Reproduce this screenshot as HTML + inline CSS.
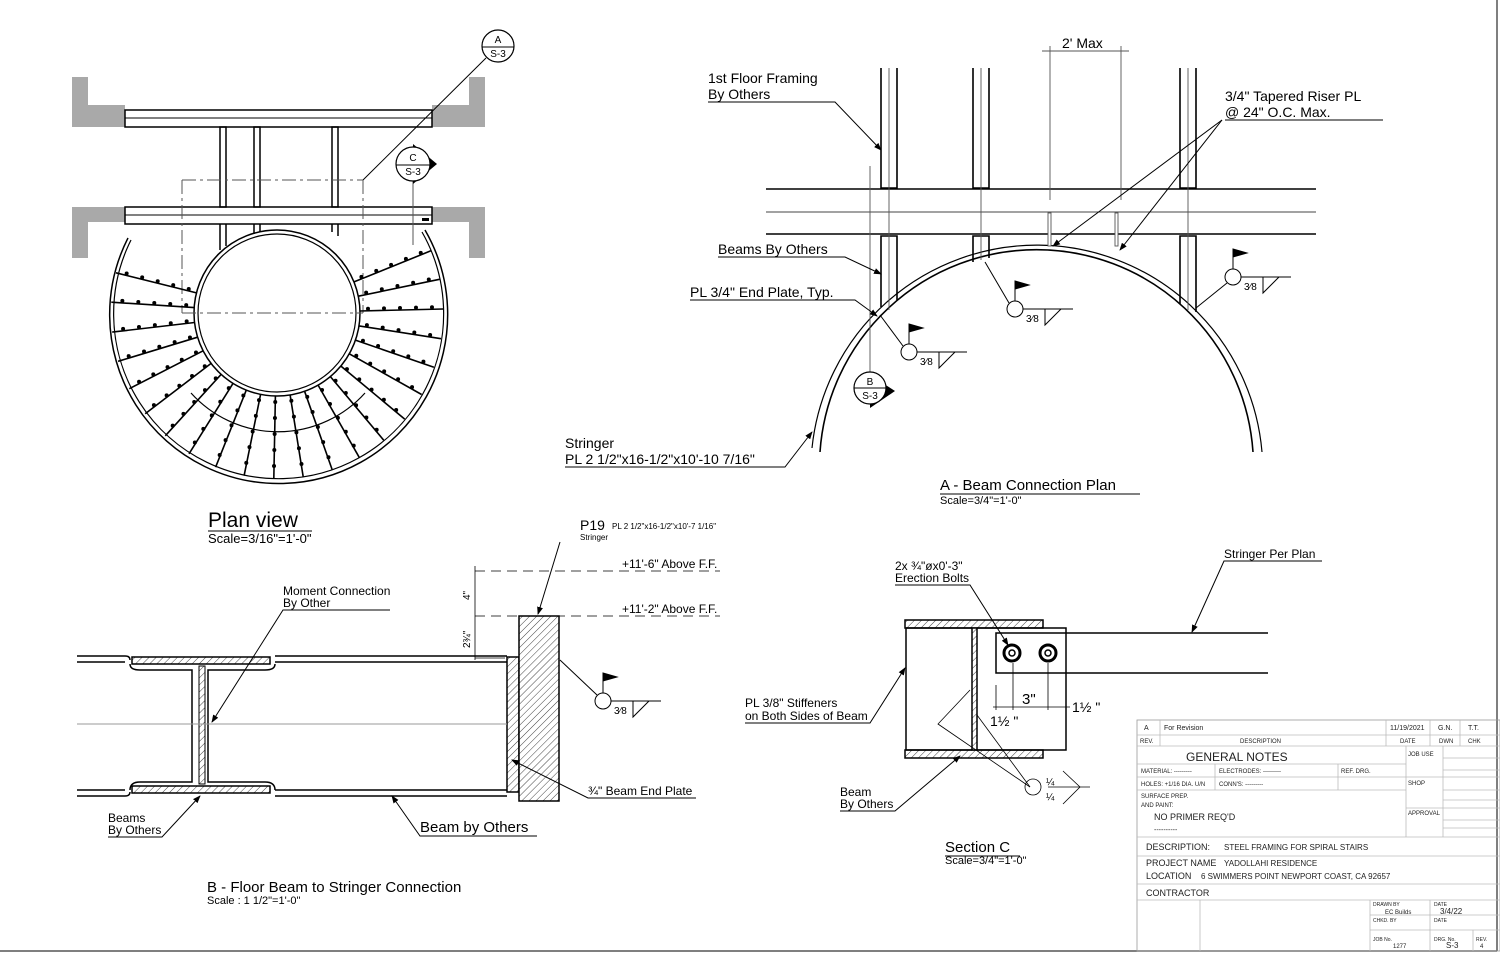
<!DOCTYPE html>
<html><head><meta charset="utf-8">
<style>
html,body{margin:0;padding:0;background:#fff;}
svg{display:block;font-family:"Liberation Sans",Arial,sans-serif;}
</style></head><body>
<svg width="1500" height="953" viewBox="0 0 1500 953" xmlns="http://www.w3.org/2000/svg">
<defs>
<pattern id="h" width="5" height="5" patternUnits="userSpaceOnUse" patternTransform="rotate(45)">
<rect width="5" height="5" fill="#fff"/><line x1="0" y1="0" x2="0" y2="5" stroke="#444" stroke-width="1"/>
</pattern>
<marker id="ar" markerWidth="8" markerHeight="6" refX="7" refY="3" orient="auto"><path d="M0,0 L8,3 L0,6z" fill="#000"/></marker>
</defs>
<rect width="1500" height="953" fill="#fff"/>
<line x1="1497" y1="0" x2="1497" y2="951" stroke="#555" stroke-width="1.5"/>
<line x1="0" y1="951" x2="1497" y2="951" stroke="#555" stroke-width="1.5"/>

<!-- ============ PLAN VIEW ============ -->
<g fill="#a9a9a9">
<path d="M72,77 H88 V105 H125 V127 H72z"/>
<path d="M485,77 H469 V105 H432 V127 H485z"/>
<path d="M72,207 H125 V222 H88 V258 H72z"/>
<path d="M485,207 H432 V222 H469 V258 H485z"/>
</g>
<g stroke="#000" fill="none" stroke-width="1.5">
<rect x="125" y="110" width="307" height="17"/>
<line x1="125" y1="118" x2="432" y2="118" stroke-width="1"/>
<rect x="125" y="207" width="307" height="17"/>
<line x1="125" y1="215" x2="432" y2="215" stroke-width="1"/>
<rect x="220" y="127" width="6" height="80"/>
<rect x="254" y="127" width="6" height="80"/>
<rect x="332" y="127" width="6" height="80"/>
<line x1="220" y1="224" x2="220" y2="250"/><line x1="226" y1="224" x2="226" y2="246"/>
<line x1="254" y1="224" x2="254" y2="234"/><line x1="260" y1="224" x2="260" y2="232"/>
<line x1="332" y1="224" x2="332" y2="232"/><line x1="338" y1="224" x2="338" y2="236"/>
<circle cx="277" cy="313" r="83"/>
<circle cx="277" cy="313" r="79" stroke-width="1.2"/>
<path d="M128,238 A169,169 0 1 0 425,230" stroke-width="1.5"/>
<path d="M131,240 A165,165 0 1 0 422,232" stroke-width="1.2"/>
</g>
<g stroke="#555" stroke-width="1" fill="none" stroke-dasharray="14,4,3,4">
<line x1="182" y1="180" x2="182" y2="313"/>
<line x1="363" y1="180" x2="363" y2="313"/>
<line x1="182" y1="180" x2="363" y2="180"/>
<line x1="182" y1="313" x2="363" y2="313"/>
</g>
<line x1="413" y1="180" x2="413" y2="245" stroke="#555"/>
<rect x="422" y="218" width="7" height="3" fill="#000"/>
<g stroke="#000" stroke-width="1.6">
<line x1="196.5" y1="292.9" x2="116" y2="272.8"/>
<line x1="194.2" y1="307.6" x2="111.3" y2="302.2"/>
<line x1="194.6" y1="322.5" x2="112.2" y2="332.1"/>
<line x1="197.6" y1="337.2" x2="118.1" y2="361.3"/>
<line x1="203.1" y1="350.8" x2="129.3" y2="388.7"/>
<line x1="211.1" y1="363.4" x2="145.2" y2="413.8"/>
<line x1="221.1" y1="374.4" x2="165.3" y2="435.8"/>
<line x1="233" y1="383.4" x2="189" y2="453.8"/>
<line x1="246.3" y1="390.1" x2="215.6" y2="467.2"/>
<line x1="260.6" y1="394.3" x2="244.1" y2="475.7"/>
<line x1="275.4" y1="396" x2="273.8" y2="479"/>
<line x1="290.1" y1="394.9" x2="303.2" y2="476.8"/>
<line x1="304.6" y1="391.3" x2="332.1" y2="469.5"/>
<line x1="318.1" y1="385.1" x2="359.2" y2="457.3"/>
<line x1="330.4" y1="376.6" x2="383.7" y2="440.2"/>
<line x1="340.8" y1="366" x2="404.7" y2="419.1"/>
<line x1="349.3" y1="353.8" x2="421.6" y2="394.5"/>
<line x1="355.4" y1="340.1" x2="433.9" y2="367.3"/>
<line x1="359" y1="325.9" x2="441" y2="338.7"/>
<line x1="360" y1="311" x2="443" y2="309"/>
<line x1="358.3" y1="296.2" x2="439.5" y2="279.3"/>
<line x1="354" y1="281.9" x2="430.9" y2="250.8"/>
</g>
<g stroke="#000" stroke-width="4" stroke-linecap="round" stroke-dasharray="0 16" stroke-dashoffset="-8" transform="translate(0,-2)">
<line x1="196.5" y1="292.9" x2="116" y2="272.8"/>
<line x1="194.2" y1="307.6" x2="111.3" y2="302.2"/>
<line x1="194.6" y1="322.5" x2="112.2" y2="332.1"/>
<line x1="197.6" y1="337.2" x2="118.1" y2="361.3"/>
<line x1="203.1" y1="350.8" x2="129.3" y2="388.7"/>
<line x1="211.1" y1="363.4" x2="145.2" y2="413.8"/>
<line x1="221.1" y1="374.4" x2="165.3" y2="435.8"/>
<line x1="233" y1="383.4" x2="189" y2="453.8"/>
<line x1="246.3" y1="390.1" x2="215.6" y2="467.2"/>
<line x1="260.6" y1="394.3" x2="244.1" y2="475.7"/>
<line x1="275.4" y1="396" x2="273.8" y2="479"/>
<line x1="290.1" y1="394.9" x2="303.2" y2="476.8"/>
<line x1="304.6" y1="391.3" x2="332.1" y2="469.5"/>
<line x1="318.1" y1="385.1" x2="359.2" y2="457.3"/>
<line x1="330.4" y1="376.6" x2="383.7" y2="440.2"/>
<line x1="340.8" y1="366" x2="404.7" y2="419.1"/>
<line x1="349.3" y1="353.8" x2="421.6" y2="394.5"/>
<line x1="355.4" y1="340.1" x2="433.9" y2="367.3"/>
<line x1="359" y1="325.9" x2="441" y2="338.7"/>
<line x1="360" y1="311" x2="443" y2="309"/>
<line x1="358.3" y1="296.2" x2="439.5" y2="279.3"/>
<line x1="354" y1="281.9" x2="430.9" y2="250.8"/>
</g>
<path d="M191,393 A117,117 0 0 0 365,393" stroke="#000" fill="none" stroke-width="1.2"/>
<!-- markers -->
<line x1="486" y1="58" x2="363" y2="180" stroke="#000"/>
<circle cx="498" cy="46" r="16" fill="#fff" stroke="#000" stroke-width="1.2"/>
<line x1="482" y1="47" x2="514" y2="47" stroke="#000"/>
<text x="498" y="43" font-size="10" text-anchor="middle">A</text>
<text x="498" y="57" font-size="10" text-anchor="middle">S-3</text>
<path d="M413,144 L437,164 L413,184z" fill="#000"/>
<circle cx="413" cy="164" r="17" fill="#fff" stroke="#000" stroke-width="1.2"/>
<line x1="396" y1="165" x2="430" y2="165" stroke="#000"/>
<text x="413" y="161" font-size="10" text-anchor="middle">C</text>
<text x="413" y="175" font-size="10" text-anchor="middle">S-3</text>
<text x="208" y="527" font-size="21">Plan view</text>
<line x1="208" y1="531" x2="312" y2="531" stroke="#000"/>
<text x="208" y="543" font-size="13">Scale=3/16"=1'-0"</text>

<!-- ============ A - BEAM CONNECTION PLAN ============ -->
<g stroke="#000" fill="none" stroke-width="1.6">
<line x1="766" y1="189" x2="1316" y2="189"/>
<line x1="766" y1="212" x2="1316" y2="212" stroke-width="1" stroke="#444"/>
<line x1="766" y1="234" x2="1316" y2="234"/>
<path d="M881,68 V188 H897 V68"/>
<path d="M973,68 V188 H989 V68"/>
<path d="M1180,68 V188 H1196 V68"/>
<path d="M881,307 V236 H897 V300"/>
<path d="M973,262 V236 H989 V258"/>
<path d="M1180,304 V236 H1196 V312"/>
<path d="M820,452 A217,217 0 0 1 1253,452"/>
<path d="M812,448 A226,226 0 0 1 1262,452" stroke-width="1.2"/>
</g>
<g stroke="#555" stroke-width="0.9">
<line x1="889" y1="68" x2="889" y2="310"/><line x1="981" y1="68" x2="981" y2="260"/><line x1="1188" y1="68" x2="1188" y2="310"/>
<line x1="870" y1="166" x2="870" y2="400"/>
<line x1="1050" y1="46" x2="1050" y2="200"/><line x1="1121" y1="46" x2="1121" y2="200"/>
<line x1="1042" y1="51" x2="1129" y2="51"/>
<rect x="1048" y="213" width="3" height="33" fill="#fff"/>
<rect x="1115" y="213" width="3" height="33" fill="#fff"/>
</g>
<text x="1062" y="48" font-size="14">2' Max</text>
<text x="708" y="83" font-size="14">1st Floor Framing</text>
<text x="708" y="99" font-size="14">By Others</text>
<polyline points="708,102 835,102 881,150" fill="none" stroke="#000" marker-end="url(#ar)"/>
<text x="1225" y="101" font-size="14">3/4" Tapered Riser PL</text>
<text x="1225" y="117" font-size="14">@ 24" O.C. Max.</text>
<line x1="1225" y1="120" x2="1383" y2="120" stroke="#000"/>
<line x1="1222" y1="120" x2="1053" y2="246" stroke="#000" marker-end="url(#ar)"/>
<line x1="1222" y1="120" x2="1120" y2="250" stroke="#000" marker-end="url(#ar)"/>
<text x="718" y="254" font-size="14">Beams By Others</text>
<polyline points="718,257 845,257 881,274" fill="none" stroke="#000" marker-end="url(#ar)"/>
<text x="690" y="297" font-size="14">PL 3/4" End Plate, Typ.</text>
<polyline points="690,300 855,300 877,316" fill="none" stroke="#000" marker-end="url(#ar)"/>
<text x="565" y="448" font-size="14">Stringer</text>
<text x="565" y="464" font-size="14">PL 2 1/2"x16-1/2"x10'-10 7/16"</text>
<polyline points="565,467 785,467 812,432" fill="none" stroke="#000" marker-end="url(#ar)"/>
<path d="M870,375 L895,391 L870,408z" fill="#000"/>
<circle cx="870" cy="388" r="16" fill="#fff" stroke="#000" stroke-width="1.2"/>
<line x1="854" y1="388" x2="886" y2="388" stroke="#000"/>
<text x="870" y="385" font-size="10" text-anchor="middle">B</text>
<text x="870" y="399" font-size="10" text-anchor="middle">S-3</text>
<text x="940" y="490" font-size="15">A - Beam Connection Plan</text>
<line x1="940" y1="494" x2="1140" y2="494" stroke="#000"/>
<text x="940" y="504" font-size="11">Scale=3/4"=1'-0"</text>

<!-- weld symbols -->
<g fill="none" stroke="#000" stroke-width="1">
<line x1="880" y1="315" x2="903" y2="346"/><circle cx="909" cy="352" r="8"/>
<line x1="909" y1="344" x2="909" y2="324"/><path d="M909,324 L923,328 L909,332z" fill="#000"/>
<line x1="917" y1="352" x2="967" y2="352"/><path d="M939,352 L939,368 L955,352"/>

<line x1="985" y1="262" x2="1009" y2="303"/><circle cx="1015" cy="309" r="8"/>
<line x1="1015" y1="301" x2="1015" y2="281"/><path d="M1015,281 L1029,285 L1015,289z" fill="#000"/>
<line x1="1023" y1="309" x2="1073" y2="309"/><path d="M1045,309 L1045,325 L1061,309"/>

<line x1="1196" y1="308" x2="1227" y2="283"/><circle cx="1233" cy="277" r="8"/>
<line x1="1233" y1="269" x2="1233" y2="249"/><path d="M1233,249 L1247,253 L1233,257z" fill="#000"/>
<line x1="1241" y1="277" x2="1291" y2="277"/><path d="M1263,277 L1263,293 L1279,277"/>

<line x1="560" y1="660" x2="597" y2="695"/><circle cx="603" cy="701" r="8"/>
<line x1="603" y1="693" x2="603" y2="673"/><path d="M603,673 L617,677 L603,681z" fill="#000"/>
<line x1="611" y1="701" x2="661" y2="701"/><path d="M633,701 L633,717 L649,701"/>
</g>
<g font-size="10">
<text x="920" y="365">3⁄8</text>
<text x="1026" y="322">3⁄8</text>
<text x="1244" y="290">3⁄8</text>
<text x="614" y="714">3⁄8</text>
</g>

<!-- ============ SECTION B ============ -->
<g stroke="#000" stroke-width="1.5" fill="none">
<path d="M77,656 H125 Q130,656 130,660"/><path d="M77,662 H125"/>
<path d="M77,790 H125"/><path d="M77,796 H125 Q130,796 130,792"/>
<rect x="132" y="657" width="138" height="7" fill="url(#h)"/>
<rect x="132" y="786" width="138" height="7" fill="url(#h)"/>
<path d="M130,664 Q130,670 140,670 H192 V782 H140 Q130,782 130,790"/>
<path d="M275,664 Q275,670 265,670 H208 V782 H265 Q275,782 275,790"/>
<rect x="199" y="666" width="6" height="118" fill="url(#h)" stroke-width="1"/>
<path d="M275,656 H507"/><path d="M275,662 H507"/>
<path d="M275,790 H507"/><path d="M275,796 H507"/>
<rect x="507" y="657" width="12" height="135" fill="url(#h)"/>
<rect x="519" y="616" width="40" height="185" fill="url(#h)"/>
</g>
<line x1="77" y1="724" x2="507" y2="724" stroke="#999"/>
<g stroke="#000" stroke-width="0.8" fill="none">
<line x1="475" y1="566" x2="475" y2="660"/>
<line x1="475" y1="571" x2="720" y2="571" stroke-dasharray="10,6"/>
<line x1="475" y1="616" x2="720" y2="616" stroke-dasharray="10,6"/>
<line x1="475" y1="658" x2="505" y2="658"/>
</g>
<text x="622" y="568" font-size="12">+11'-6" Above F.F.</text>
<text x="622" y="613" font-size="12">+11'-2" Above F.F.</text>
<text x="470" y="600" font-size="10" transform="rotate(-90 470 600)">4"</text>
<text x="470" y="648" font-size="10" transform="rotate(-90 470 648)">2¾"</text>
<text x="580" y="530" font-size="14">P19</text>
<text x="612" y="529" font-size="8">PL 2 1/2"x16-1/2"x10'-7 1/16"</text>
<text x="580" y="540" font-size="8">Stringer</text>
<line x1="560" y1="542" x2="538" y2="614" stroke="#000" marker-end="url(#ar)"/>
<polyline points="696,798 588,798 512,760" fill="none" stroke="#000" marker-end="url(#ar)"/>
<text x="588" y="795" font-size="12">¾" Beam End Plate</text>
<text x="283" y="595" font-size="12">Moment Connection</text>
<text x="283" y="607" font-size="12">By Other</text>
<polyline points="390,610 283,610 212,722" fill="none" stroke="#000" marker-end="url(#ar)"/>
<text x="108" y="822" font-size="12">Beams</text>
<text x="108" y="834" font-size="12">By Others</text>
<polyline points="108,837 162,837 200,796" fill="none" stroke="#000" marker-end="url(#ar)"/>
<text x="420" y="832" font-size="15">Beam by Others</text>
<polyline points="537,836 420,836 392,796" fill="none" stroke="#000" marker-end="url(#ar)"/>
<text x="207" y="892" font-size="15">B - Floor Beam to Stringer Connection</text>
<text x="207" y="904" font-size="11">Scale : 1 1/2"=1'-0"</text>

<!-- ============ SECTION C ============ -->
<g stroke="#000" stroke-width="1.5" fill="none">
<rect x="905" y="620" width="138" height="8" fill="url(#h)"/>
<rect x="905" y="750" width="138" height="8" fill="url(#h)"/>
<line x1="906" y1="628" x2="906" y2="750"/>
<line x1="906" y1="628" x2="972" y2="628"/><line x1="906" y1="750" x2="972" y2="750"/>
<rect x="972" y="628" width="5" height="122" fill="url(#h)"/>
<path d="M977,628 H1066 V750 H977"/>
<path d="M1268,633 H996 V673 H1268"/>
<circle cx="1012" cy="653" r="8" stroke-width="3"/><circle cx="1012" cy="653" r="3"/>
<circle cx="1048" cy="653" r="8" stroke-width="3"/><circle cx="1048" cy="653" r="3"/>
</g>
<g stroke="#000" stroke-width="0.8" fill="none">
<line x1="996" y1="685" x2="996" y2="710"/><line x1="1013" y1="663" x2="1013" y2="710"/>
<line x1="1048" y1="663" x2="1048" y2="710"/>
<line x1="993" y1="707" x2="1070" y2="707"/>
<polyline points="970,690 938,724 1030,787" /><line x1="977" y1="715" x2="1030" y2="787"/>
<line x1="1048" y1="787" x2="1090" y2="787"/>
<circle cx="1033" cy="787" r="8"/>
<path d="M1063,771 L1080,787 L1063,804"/>
</g>
<text x="1022" y="704" font-size="15">3"</text>
<text x="1072" y="712" font-size="14">1½ "</text>
<text x="990" y="726" font-size="14">1½ "</text>
<text x="1046" y="785" font-size="10">¼</text>
<text x="1046" y="800" font-size="10">¼</text>
<text x="895" y="570" font-size="12">2x ¾"øx0'-3"</text>
<text x="895" y="582" font-size="12">Erection Bolts</text>
<polyline points="895,585 970,585 1008,645" fill="none" stroke="#000" marker-end="url(#ar)"/>
<text x="1224" y="558" font-size="12">Stringer Per Plan</text>
<polyline points="1322,561 1224,561 1192,632" fill="none" stroke="#000" marker-end="url(#ar)"/>
<text x="745" y="707" font-size="12">PL 3/8" Stiffeners</text>
<text x="745" y="720" font-size="12">on Both Sides of Beam</text>
<polyline points="745,723 870,723 905,668" fill="none" stroke="#000" marker-end="url(#ar)"/>
<text x="840" y="796" font-size="12">Beam</text>
<text x="840" y="808" font-size="12">By Others</text>
<polyline points="840,811 895,811 960,756" fill="none" stroke="#000" marker-end="url(#ar)"/>
<text x="945" y="852" font-size="15">Section C</text>
<line x1="945" y1="856" x2="1020" y2="856" stroke="#000"/>
<text x="945" y="864" font-size="11">Scale=3/4"=1'-0"</text>

<!-- ============ TITLE BLOCK ============ -->
<g stroke="#bbb" stroke-width="0.8" fill="none">
<rect x="1137" y="720" width="363" height="231" stroke="#999"/>
<line x1="1137" y1="735" x2="1500" y2="735"/><line x1="1137" y1="746" x2="1500" y2="746"/>
<line x1="1160" y1="720" x2="1160" y2="746"/><line x1="1386" y1="720" x2="1386" y2="746"/>
<line x1="1430" y1="720" x2="1430" y2="746"/><line x1="1460" y1="720" x2="1460" y2="746"/>
<line x1="1137" y1="764" x2="1406" y2="764"/><line x1="1137" y1="777" x2="1406" y2="777"/>
<line x1="1137" y1="790" x2="1406" y2="790"/>
<line x1="1215" y1="764" x2="1215" y2="790"/><line x1="1338" y1="764" x2="1338" y2="790"/>
<line x1="1406" y1="746" x2="1406" y2="837"/><line x1="1443" y1="746" x2="1443" y2="837"/>
<line x1="1443" y1="758" x2="1500" y2="758"/><line x1="1443" y1="770" x2="1500" y2="770"/>
<line x1="1406" y1="777" x2="1500" y2="777"/><line x1="1443" y1="790" x2="1500" y2="790"/>
<line x1="1443" y1="800" x2="1500" y2="800"/><line x1="1406" y1="808" x2="1500" y2="808"/>
<line x1="1443" y1="820" x2="1500" y2="820"/><line x1="1443" y1="828" x2="1500" y2="828"/>
<line x1="1137" y1="837" x2="1500" y2="837"/><line x1="1137" y1="856" x2="1500" y2="856"/>
<line x1="1137" y1="884" x2="1500" y2="884"/><line x1="1137" y1="900" x2="1500" y2="900"/>
<line x1="1200" y1="900" x2="1200" y2="951"/><line x1="1370" y1="900" x2="1370" y2="951"/>
<line x1="1430" y1="900" x2="1430" y2="951"/><line x1="1370" y1="915" x2="1500" y2="915"/>
<line x1="1370" y1="930" x2="1500" y2="930"/><line x1="1473" y1="930" x2="1473" y2="951"/>
</g>
<g font-size="6" fill="#222">
<text x="1144" y="730" font-size="7">A</text><text x="1164" y="730" font-size="7">For Revision</text>
<text x="1390" y="730" font-size="7">11/19/2021</text><text x="1438" y="730" font-size="7">G.N.</text><text x="1468" y="730" font-size="7">T.T.</text>
<text x="1140" y="743">REV.</text><text x="1240" y="743">DESCRIPTION</text><text x="1400" y="743">DATE</text><text x="1439" y="743">DWN</text><text x="1468" y="743">CHK</text>
<text x="1186" y="761" font-size="12">GENERAL NOTES</text>
<text x="1408" y="756">JOB USE</text>
<text x="1141" y="773">MATERIAL:   ---------</text><text x="1219" y="773">ELECTRODES:   ---------</text><text x="1341" y="773">REF. DRG.</text>
<text x="1141" y="786">HOLES:  +1/16  DIA. U/N</text><text x="1219" y="786">CONN'S:  ---------</text>
<text x="1408" y="785">SHOP</text>
<text x="1141" y="798">SURFACE PREP.</text><text x="1141" y="807">AND PAINT:</text>
<text x="1408" y="815">APPROVAL</text>
<text x="1154" y="820" font-size="9">NO PRIMER REQ'D</text>
<text x="1154" y="832" font-size="7">----------</text>
<text x="1146" y="850" font-size="9">DESCRIPTION:</text><text x="1224" y="850" font-size="8">STEEL FRAMING FOR SPIRAL STAIRS</text>
<text x="1146" y="866" font-size="9">PROJECT NAME</text><text x="1224" y="866" font-size="8">YADOLLAHI RESIDENCE</text>
<text x="1146" y="879" font-size="9">LOCATION</text><text x="1201" y="879" font-size="8">6 SWIMMERS POINT NEWPORT COAST, CA 92657</text>
<text x="1146" y="896" font-size="9">CONTRACTOR</text>
<text x="1373" y="906" font-size="5">DRAWN BY</text><text x="1385" y="914">EC Builds</text>
<text x="1434" y="906" font-size="5">DATE</text><text x="1440" y="914" font-size="8">3/4/22</text>
<text x="1373" y="922" font-size="5">CHKD. BY</text><text x="1434" y="922" font-size="5">DATE</text>
<text x="1373" y="941" font-size="5">JOB No.</text><text x="1393" y="948">1277</text>
<text x="1434" y="941" font-size="5">DRG. No.</text><text x="1446" y="948" font-size="8">S-3</text>
<text x="1476" y="941" font-size="5">REV.</text><text x="1480" y="948">4</text>
</g>
</svg>
</body></html>
